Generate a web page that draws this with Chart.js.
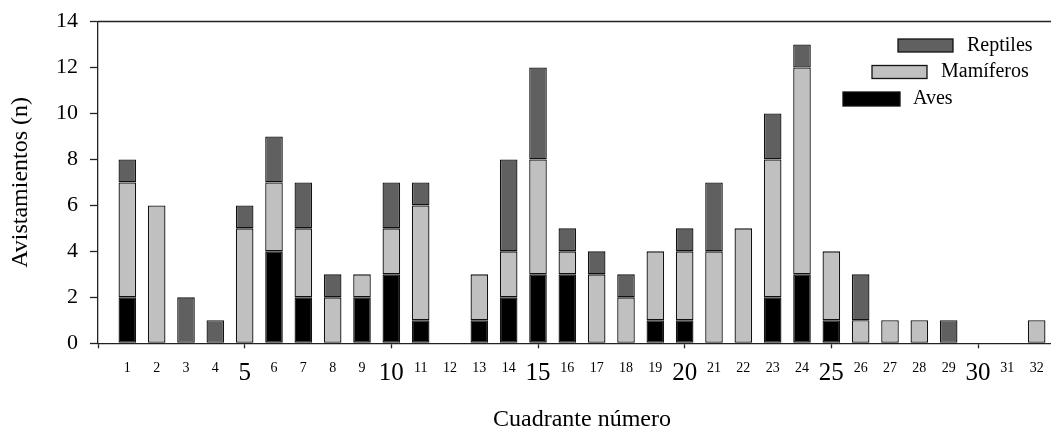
<!DOCTYPE html>
<html>
<head>
<meta charset="utf-8">
<script src="https://cdn.jsdelivr.net/npm/chart.js@4"></script>
<style>
  html, body { margin: 0; padding: 0; background: #fff; overflow: hidden; width: 1051px; height: 432px; }
  #wrap { width: 1066px; height: 432px; position: relative; }
</style>
</head>
<body>
<div id="wrap"><canvas id="c"></canvas></div>
<script>
// ---- data ----
const cuadrantes = [1,2,3,4,5,6,7,8,9,10,11,12,13,14,15,16,17,18,19,20,21,22,23,24,25,26,27,28,29,30,31,32];
const aves      = [2,0,0,0,0,4,2,0,2,3,1,0,1,2,3,3,0,0,1,1,0,0,2,3,1,0,0,0,0,0,0,0];
const mamiferos = [5,6,0,0,5,3,3,2,1,2,5,0,2,2,5,1,3,2,3,3,4,5,6,9,3,1,1,1,0,0,0,1];
const reptiles  = [1,0,2,1,1,2,2,1,0,2,1,0,0,4,4,1,1,1,0,1,3,0,2,1,0,2,0,0,1,0,0,0];
const seriesNames = ['Aves', 'Mamíferos', 'Reptiles'];
const yTickValues = [0,2,4,6,8,10,12,14];
const xTitle = 'Cuadrante número';
const yTitle = 'Avistamientos (n)';

const FONT = "'Liberation Serif', 'Times New Roman', serif";
const colors = ['#000000', '#c0c0c0', '#606060'];

function toPoints(arr) {
  return cuadrantes.map((c, i) => ({ x: c, y: arr[i] === 0 ? null : arr[i] }));
}

const legendLayout = [
  { box: [843, 92, 57, 14], text: [913, 99] },
  { box: [872, 65.5, 55, 13], text: [941, 72] },
  { box: [898, 39, 55, 13], text: [967, 46] }
];

const customLegend = {
  id: 'customLegend',
  afterDraw(chart) {
    const ctx = chart.ctx;
    const ca = chart.chartArea;
    ctx.save();
    // top frame line
    ctx.strokeStyle = '#222';
    ctx.lineWidth = 1.3;
    ctx.beginPath();
    ctx.moveTo(ca.left, ca.top);
    ctx.lineTo(ca.right, ca.top);
    ctx.stroke();
    // legend
    chart.data.datasets.forEach((ds, i) => {
      const L = legendLayout[i];
      ctx.fillStyle = ds.backgroundColor;
      ctx.fillRect(L.box[0], L.box[1], L.box[2], L.box[3]);
      ctx.strokeStyle = '#111';
      ctx.lineWidth = 1.3;
      ctx.strokeRect(L.box[0], L.box[1], L.box[2], L.box[3]);
      ctx.fillStyle = '#000';
      ctx.font = '20px ' + FONT;
      ctx.textAlign = 'left';
      ctx.textBaseline = 'middle';
      ctx.fillText(ds.label, L.text[0], L.text[1]);
    });
    ctx.restore();
  }
};

new Chart(document.getElementById('c'), {
  type: 'bar',
  data: {
    datasets: [
      { label: seriesNames[0], data: toPoints(aves), backgroundColor: colors[0] },
      { label: seriesNames[1], data: toPoints(mamiferos), backgroundColor: colors[1] },
      { label: seriesNames[2], data: toPoints(reptiles), backgroundColor: colors[2] }
    ].map(d => Object.assign(d, {
      borderColor: '#111', borderWidth: 1.3, borderSkipped: false,
      barPercentage: 0.6, categoryPercentage: 1.0
    }))
  },
  options: {
    responsive: true,
    maintainAspectRatio: false,
    animation: false,
    layout: { padding: { top: 21.5, right: 0, bottom: 0, left: 0 } },
    plugins: { legend: { display: false }, tooltip: { enabled: false } },
    scales: {
      x: {
        type: 'linear',
        stacked: true,
        offset: false,
        min: 0,
        max: 33,
        afterFit(scale) {
          scale.height = 88.7;
          scale.paddingLeft = 0;
          scale.paddingRight = 0;
        },
        border: { display: true, color: '#222', width: 1.3 },
        grid: {
          offset: false,
          drawOnChartArea: false,
          drawTicks: true,
          tickLength: 5,
          tickWidth: 1.3,
          tickColor: (ctx) => (ctx.tick && ctx.tick.value % 5 === 0) ? '#222' : 'rgba(0,0,0,0)'
        },
        ticks: {
          stepSize: 1,
          autoSkip: false,
          includeBounds: false,
          maxRotation: 0,
          minRotation: 0,
          padding: 11.8,
          color: '#000',
          font: (ctx) => {
            const big = ctx.tick && ctx.tick.value % 5 === 0;
            return big ? { family: FONT, size: 25, lineHeight: 1.1 } : { family: FONT, size: 14, lineHeight: 1.2 };
          },
          callback: (v) => cuadrantes.includes(v) ? String(v) : ''
        },
        title: {
          display: true,
          text: xTitle,
          color: '#000',
          font: { family: FONT, size: 24, lineHeight: 1.0 },
          padding: { top: 0, bottom: 0 }
        }
      },
      y: {
        stacked: true,
        min: 0,
        max: 14,
        afterFit(scale) {
          scale.width = 98;
          scale.paddingTop = 0;
          scale.paddingBottom = 0;
        },
        border: { display: true, color: '#222', width: 1.3 },
        grid: {
          drawOnChartArea: false,
          drawTicks: true,
          tickLength: 8,
          tickWidth: 1.3,
          tickColor: '#222'
        },
        afterBuildTicks(scale) { scale.ticks = yTickValues.map(v => ({ value: v })); },
        ticks: {
          padding: 12,
          color: '#000',
          font: { family: FONT, size: 22 }
        },
        title: {
          display: true,
          text: yTitle,
          color: '#000',
          font: { family: FONT, size: 24, lineHeight: 1.2 },
          padding: { top: 6, bottom: 0 }
        }
      }
    }
  },
  plugins: [customLegend]
});
</script>
</body>
</html>
